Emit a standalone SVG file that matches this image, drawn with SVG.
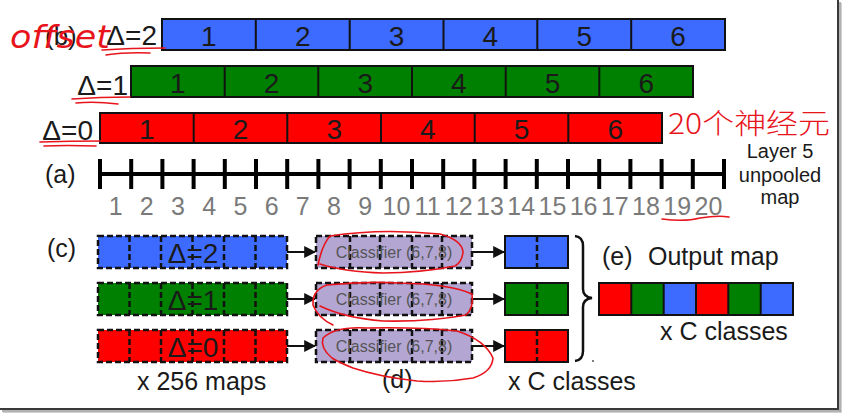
<svg xmlns="http://www.w3.org/2000/svg" width="842" height="413" viewBox="0 0 842 413">
<style>
text{font-family:"Liberation Sans",Arial,sans-serif;fill:#1a1a1a}
.bar{stroke:#111;stroke-width:2}
.div{stroke:#111;stroke-width:2}
.num{font-size:28px;text-anchor:middle}
.lbl{font-size:25px}
.dl{font-size:28px;text-anchor:end}
.tick{stroke:#000;stroke-width:4}
.rn{font-size:25px;fill:#7a7a7a;text-anchor:middle}
.dash{stroke:#111;stroke-width:2.5;stroke-dasharray:6 3;fill:none}
.conn{stroke:#111;stroke-width:2;fill:none}
.cls{font-size:16px;fill:#555;text-anchor:middle}
.pen{stroke:#e8141c;stroke-width:1.6;fill:none;stroke-linecap:round;stroke-linejoin:round}
.blue{fill:#3d6bff}.green{fill:#008000}.red{fill:#ff0000}.lav{fill:#b3a6d3}
</style>
<defs>
<marker id="ah" viewBox="0 0 10 10" refX="9" refY="5" markerWidth="6" markerHeight="6" orient="auto" markerUnits="strokeWidth">
<path d="M0,0 L10,5 L0,10 z" fill="#111"/>
</marker>
</defs>
<rect x="0" y="0" width="842" height="413" fill="#fff"/>

<!-- frame -->
<g id="frame">
<line x1="838" y1="0" x2="838" y2="409" stroke="#3a3a3a" stroke-width="2"/>
<line x1="0" y1="409" x2="839" y2="409" stroke="#3a3a3a" stroke-width="2"/>
<line x1="840" y1="2" x2="840" y2="411" stroke="#999" stroke-width="1.5"/>
<line x1="2" y1="411" x2="841" y2="411" stroke="#999" stroke-width="1.5"/>
<line x1="841.5" y1="3" x2="841.5" y2="413" stroke="#d0d0d0" stroke-width="1"/>
<line x1="3" y1="412.5" x2="842" y2="412.5" stroke="#d0d0d0" stroke-width="1"/>
</g>

<!-- (b) pooled rows -->
<text class="lbl" x="45" y="45" style="font-size:26px">(b)</text>
<g id="row-d2">
<text class="dl" x="157" y="45">Δ=2</text>
<rect class="bar blue" x="162" y="19" width="563" height="31"/>
<g class="div"><line x1="255.8" y1="19" x2="255.8" y2="50"/><line x1="349.7" y1="19" x2="349.7" y2="50"/><line x1="443.5" y1="19" x2="443.5" y2="50"/><line x1="537.3" y1="19" x2="537.3" y2="50"/><line x1="631.2" y1="19" x2="631.2" y2="50"/></g>
<text class="num" x="208.9" y="46">1</text><text class="num" x="302.8" y="46">2</text><text class="num" x="396.6" y="46">3</text><text class="num" x="490.4" y="46">4</text><text class="num" x="584.3" y="46">5</text><text class="num" x="678.1" y="46">6</text>
</g>
<g id="row-d1">
<text class="dl" x="128" y="95">Δ=1</text>
<rect class="bar green" x="131" y="66" width="562" height="31"/>
<g class="div"><line x1="224.7" y1="66" x2="224.7" y2="97"/><line x1="318.3" y1="66" x2="318.3" y2="97"/><line x1="412" y1="66" x2="412" y2="97"/><line x1="505.7" y1="66" x2="505.7" y2="97"/><line x1="599.3" y1="66" x2="599.3" y2="97"/></g>
<text class="num" x="177.8" y="93">1</text><text class="num" x="271.5" y="93">2</text><text class="num" x="365.2" y="93">3</text><text class="num" x="458.8" y="93">4</text><text class="num" x="552.5" y="93">5</text><text class="num" x="646.2" y="93">6</text>
</g>
<g id="row-d0">
<text class="dl" x="93" y="140">Δ=0</text>
<rect class="bar red" x="100" y="113" width="562" height="30"/>
<g class="div"><line x1="193.7" y1="113" x2="193.7" y2="143"/><line x1="287.3" y1="113" x2="287.3" y2="143"/><line x1="381" y1="113" x2="381" y2="143"/><line x1="474.7" y1="113" x2="474.7" y2="143"/><line x1="568.3" y1="113" x2="568.3" y2="143"/></g>
<text class="num" x="146.8" y="139">1</text><text class="num" x="240.5" y="139">2</text><text class="num" x="334.2" y="139">3</text><text class="num" x="427.8" y="139">4</text><text class="num" x="521.5" y="139">5</text><text class="num" x="615.2" y="139">6</text>
</g>

<!-- (a) ruler -->
<g id="ruler">
<text class="lbl" x="45" y="183">(a)</text>
<line class="tick" x1="100" y1="174" x2="724" y2="174"/>
<g class="tick">
<line x1="100" y1="159" x2="100" y2="189"/><line x1="131.2" y1="159" x2="131.2" y2="189"/><line x1="162.4" y1="159" x2="162.4" y2="189"/><line x1="193.6" y1="159" x2="193.6" y2="189"/><line x1="224.8" y1="159" x2="224.8" y2="189"/><line x1="256" y1="159" x2="256" y2="189"/><line x1="287.2" y1="159" x2="287.2" y2="189"/><line x1="318.4" y1="159" x2="318.4" y2="189"/><line x1="349.6" y1="159" x2="349.6" y2="189"/><line x1="380.8" y1="159" x2="380.8" y2="189"/><line x1="412" y1="159" x2="412" y2="189"/><line x1="443.2" y1="159" x2="443.2" y2="189"/><line x1="474.4" y1="159" x2="474.4" y2="189"/><line x1="505.6" y1="159" x2="505.6" y2="189"/><line x1="536.8" y1="159" x2="536.8" y2="189"/><line x1="568" y1="159" x2="568" y2="189"/><line x1="599.2" y1="159" x2="599.2" y2="189"/><line x1="630.4" y1="159" x2="630.4" y2="189"/><line x1="661.6" y1="159" x2="661.6" y2="189"/><line x1="692.8" y1="159" x2="692.8" y2="189"/><line x1="724" y1="159" x2="724" y2="189"/>
</g>
<text class="rn" x="115.6" y="215">1</text><text class="rn" x="146.8" y="215">2</text><text class="rn" x="178" y="215">3</text><text class="rn" x="209.2" y="215">4</text><text class="rn" x="240.4" y="215">5</text><text class="rn" x="271.6" y="215">6</text><text class="rn" x="302.8" y="215">7</text><text class="rn" x="334" y="215">8</text><text class="rn" x="365.2" y="215">9</text><text class="rn" x="396.4" y="215">10</text><text class="rn" x="427.6" y="215">11</text><text class="rn" x="458.8" y="215">12</text><text class="rn" x="490" y="215">13</text><text class="rn" x="521.2" y="215">14</text><text class="rn" x="552.4" y="215">15</text><text class="rn" x="583.6" y="215">16</text><text class="rn" x="614.8" y="215">17</text><text class="rn" x="646" y="215">18</text><text class="rn" x="677.2" y="215">19</text><text class="rn" x="708.4" y="215">20</text>
<text x="780" y="158" style="font-size:20px;text-anchor:middle">Layer 5</text>
<text x="780" y="182" style="font-size:20px;text-anchor:middle">unpooled</text>
<text x="780" y="204" style="font-size:20px;text-anchor:middle">map</text>
</g>

<!-- (c) maps -->
<text class="lbl" x="47" y="257">(c)</text>
<g id="map-d2">
<rect class="blue" x="98" y="236" width="189" height="32"/><rect class="dash" x="98" y="236" width="189" height="32"/>
<g class="dash"><line x1="129.5" y1="236" x2="129.5" y2="268"/><line x1="161" y1="236" x2="161" y2="268"/><line x1="192.5" y1="236" x2="192.5" y2="268"/><line x1="224" y1="236" x2="224" y2="268"/><line x1="255.5" y1="236" x2="255.5" y2="268"/></g>
<text x="193" y="263" style="font-size:28px;text-anchor:middle">Δ=2</text>
</g>
<g id="map-d1">
<rect class="green" x="98" y="283" width="189" height="32"/><rect class="dash" x="98" y="283" width="189" height="32"/>
<g class="dash"><line x1="129.5" y1="283" x2="129.5" y2="315"/><line x1="161" y1="283" x2="161" y2="315"/><line x1="192.5" y1="283" x2="192.5" y2="315"/><line x1="224" y1="283" x2="224" y2="315"/><line x1="255.5" y1="283" x2="255.5" y2="315"/></g>
<text x="193" y="310" style="font-size:28px;text-anchor:middle">Δ=1</text>
</g>
<g id="map-d0">
<rect class="red" x="98" y="330" width="189" height="32"/><rect class="dash" x="98" y="330" width="189" height="32"/>
<g class="dash"><line x1="129.5" y1="330" x2="129.5" y2="362"/><line x1="161" y1="330" x2="161" y2="362"/><line x1="192.5" y1="330" x2="192.5" y2="362"/><line x1="224" y1="330" x2="224" y2="362"/><line x1="255.5" y1="330" x2="255.5" y2="362"/></g>
<text x="193" y="357" style="font-size:28px;text-anchor:middle">Δ=0</text>
</g>
<text class="lbl" x="137" y="390">x 256 maps</text>

<!-- (d) classifiers -->
<g id="cls-d2">
<rect class="lav" x="316" y="236" width="156" height="32"/><rect class="dash" x="316" y="236" width="156" height="32"/>
<g class="dash"><line x1="350" y1="236" x2="350" y2="268"/><line x1="380" y1="236" x2="380" y2="268"/><line x1="412" y1="236" x2="412" y2="268"/><line x1="442" y1="236" x2="442" y2="268"/></g>
<text class="cls" x="394" y="258">Classifier (6,7,8)</text>
</g>
<g id="cls-d1">
<rect class="lav" x="316" y="283" width="156" height="32"/><rect class="dash" x="316" y="283" width="156" height="32"/>
<g class="dash"><line x1="350" y1="283" x2="350" y2="315"/><line x1="380" y1="283" x2="380" y2="315"/><line x1="412" y1="283" x2="412" y2="315"/><line x1="442" y1="283" x2="442" y2="315"/></g>
<text class="cls" x="394" y="305">Classifier (6,7,8)</text>
</g>
<g id="cls-d0">
<rect class="lav" x="316" y="330" width="156" height="32"/><rect class="dash" x="316" y="330" width="156" height="32"/>
<g class="dash"><line x1="350" y1="330" x2="350" y2="362"/><line x1="380" y1="330" x2="380" y2="362"/><line x1="412" y1="330" x2="412" y2="362"/><line x1="442" y1="330" x2="442" y2="362"/></g>
<text class="cls" x="394" y="352">Classifier (6,7,8)</text>
</g>
<text class="lbl" x="382" y="388">(d)</text>

<!-- class outputs -->
<g id="out-d2"><rect class="bar blue" x="505" y="236" width="63" height="32"/><line class="dash" x1="537" y1="236" x2="537" y2="268"/></g>
<g id="out-d1"><rect class="bar green" x="505" y="283" width="63" height="32"/><line class="dash" x1="537" y1="283" x2="537" y2="315"/></g>
<g id="out-d0"><rect class="bar red" x="505" y="330" width="63" height="32"/><line class="dash" x1="537" y1="330" x2="537" y2="362"/></g>
<text class="lbl" x="508" y="390">x C classes</text>

<!-- connectors -->
<g id="connectors">
<line class="conn" x1="287" y1="252" x2="315" y2="252" marker-end="url(#ah)"/>
<line class="conn" x1="287" y1="299" x2="315" y2="299" marker-end="url(#ah)"/>
<line class="conn" x1="287" y1="346" x2="315" y2="346" marker-end="url(#ah)"/>
<line class="conn" x1="472" y1="252" x2="504" y2="252" marker-end="url(#ah)"/>
<line class="conn" x1="472" y1="299" x2="504" y2="299" marker-end="url(#ah)"/>
<line class="conn" x1="472" y1="346" x2="504" y2="346" marker-end="url(#ah)"/>
<path d="M575,236 Q583,237 583,246 L583,289 Q583,297 592,298 Q583,299 583,307 L583,351 Q583,360 575,361" stroke="#111" stroke-width="2.5" fill="none"/>
</g>
<circle cx="593" cy="361" r="1" fill="#555"/>

<!-- (e) output map -->
<g id="output-map">
<text class="lbl" x="602" y="265">(e)</text>
<text class="lbl" x="648" y="265">Output map</text>
<rect class="red" x="599" y="283" width="32.3" height="32"/>
<rect class="green" x="631.3" y="283" width="32.3" height="32"/>
<rect class="blue" x="663.7" y="283" width="32.3" height="32"/>
<rect class="red" x="696" y="283" width="32.3" height="32"/>
<rect class="green" x="728.3" y="283" width="32.3" height="32"/>
<rect class="blue" x="760.7" y="283" width="32.3" height="32"/>
<rect x="599" y="283" width="194" height="32" fill="none" stroke="#111" stroke-width="2"/>
<g class="div"><line x1="631.3" y1="283" x2="631.3" y2="315"/><line x1="663.7" y1="283" x2="663.7" y2="315"/><line x1="696" y1="283" x2="696" y2="315"/><line x1="728.3" y1="283" x2="728.3" y2="315"/><line x1="760.7" y1="283" x2="760.7" y2="315"/></g>
<text class="lbl" x="660" y="340">x C classes</text>
</g>

<!-- handwritten annotations -->
<g id="annotations">
<text x="10" y="48" textLength="100" lengthAdjust="spacingAndGlyphs" style="font-family:'DejaVu Sans',sans-serif;font-size:32px;fill:#e8141c;font-style:italic;font-weight:200">offset</text>
<path class="pen" d="M102,50 Q130,48 165,48 M106,55 Q125,52 150,53"/>
<path class="pen" d="M72,99 Q100,97 130,97 M76,103 Q95,101 118,104"/>
<path class="pen" d="M40,142 Q70,141 102,141 M44,146 Q65,145 96,146"/>
<text x="668" y="134" textLength="162" lengthAdjust="spacingAndGlyphs" style="font-family:'Noto Sans CJK SC',sans-serif;font-size:28px;fill:#e8141c;font-weight:300">20个神经元</text>
<path class="pen" d="M662,219 Q685,222 700,218 Q718,215 729,217"/>
<path class="pen" d="M318,265 Q322,245 330,236 Q380,228 440,234 Q462,240 463,252 Q462,262 455,266 Q420,273 383,273 Q345,272 320,264"/>
<path class="pen" d="M333,325 Q318,318 313,305 Q312,290 327,285 Q365,281 400,283 Q450,284 472,294 Q474,308 466,315 Q430,322 383,321 Q345,318 320,306"/>
<path class="pen" d="M332,358 Q320,348 323,338 Q335,326 367,328 Q420,327 457,331 Q485,340 493,358 Q492,372 473,378 Q445,383 417,381 Q380,377 353,368 Q338,362 332,358"/>
</g>
</svg>
